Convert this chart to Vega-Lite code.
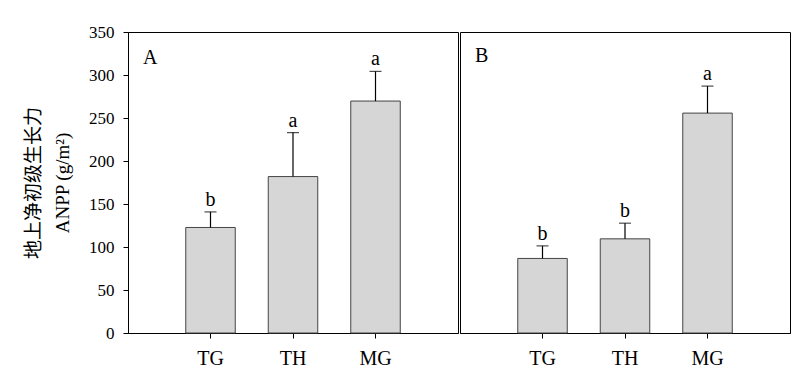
{
  "$schema": "https://vega.github.io/schema/vega-lite/v6.json",
  "padding": {"left": 24, "top": 22, "right": 5, "bottom": 5},
  "background": "white",
  "data": {"values": [
      {"panel": "A", "group": "TG", "mean": 122.7, "upper": 140.8, "sig": "b"},
      {"panel": "A", "group": "TH", "mean": 181.9, "upper": 233.0, "sig": "a"},
      {"panel": "A", "group": "MG", "mean": 269.7, "upper": 304.2, "sig": "a"},
      {"panel": "B", "group": "TG", "mean": 86.7, "upper": 101.3, "sig": "b"},
      {"panel": "B", "group": "TH", "mean": 109.5, "upper": 127.7, "sig": "b"},
      {"panel": "B", "group": "MG", "mean": 255.7, "upper": 287.1, "sig": "a"}
  ]},
  "config": {
    "font": "Liberation Serif",
    "view": {"stroke": "black", "strokeWidth": 1},
    "axis": {"domainColor": "black", "tickColor": "black", "labelColor": "black", "grid": false, "labelFont": "Liberation Serif", "titleColor": "black"},
    "axisY": {"titleFont": "Liberation Serif, Noto Sans CJK SC", "titleFontSize": 19, "titleFontWeight": "normal", "titleLineHeight": 29, "titlePadding": 16, "labelFontSize": 17, "tickSize": 5, "labelPadding": 9}
  },
  "spacing": 0,
  "hconcat": [
    {
      "width": 330,
      "height": 301,
      "title": {"text": "A", "anchor": "start", "frame": "group", "orient": "top", "offset": -31, "dx": 15, "dy": 30, "baseline": "alphabetic", "fontSize": 20, "font": "Liberation Serif", "fontWeight": "normal", "color": "black"},
      "transform": [{"filter": "datum.panel === 'A'"}],
      "encoding": {
        "x": {"field": "group", "type": "nominal", "sort": ["TG", "TH", "MG"],
          "scale": {"paddingInner": 0.4, "paddingOuter": 0.7},
          "axis": {"title": null, "labelAngle": 0, "labelFontSize": 20, "tickSize": 5, "labelPadding": 10}}
      },
      "layer": [
        {
          "mark": {"type": "bar", "fill": "#d6d6d6", "stroke": "#444444", "strokeWidth": 1},
          "encoding": {
            "y": {"field": "mean", "type": "quantitative",
              "scale": {"domain": [0, 350], "nice": false},
              "axis": {"title": ["地上净初级生长力", "ANPP (g/m²)"], "values": [0, 50, 100, 150, 200, 250, 300, 350]}}
          }
        },
        {
          "mark": {"type": "rule", "color": "black", "strokeWidth": 1.2},
          "encoding": {"y": {"field": "mean", "type": "quantitative", "axis": {"title": ["地上净初级生长力", "ANPP (g/m²)"], "values": [0, 50, 100, 150, 200, 250, 300, 350]}}, "y2": {"field": "upper"}}
        },
        {
          "mark": {"type": "tick", "color": "black", "size": 12, "thickness": 1.2},
          "encoding": {"y": {"field": "upper", "type": "quantitative", "axis": {"title": ["地上净初级生长力", "ANPP (g/m²)"], "values": [0, 50, 100, 150, 200, 250, 300, 350]}}}
        },
        {
          "mark": {"type": "text", "fontSize": 20, "baseline": "alphabetic", "dy": -6, "color": "black"},
          "encoding": {"y": {"field": "upper", "type": "quantitative", "axis": {"title": ["地上净初级生长力", "ANPP (g/m²)"], "values": [0, 50, 100, 150, 200, 250, 300, 350]}}, "text": {"field": "sig"}}
        }
      ]
    },
    {
      "width": 330,
      "height": 301,
      "title": {"text": "B", "anchor": "start", "frame": "group", "orient": "top", "offset": -31, "dx": 15, "dy": 19, "baseline": "alphabetic", "fontSize": 20, "font": "Liberation Serif", "fontWeight": "normal", "color": "black"},
      "transform": [{"filter": "datum.panel === 'B'"}],
      "encoding": {
        "x": {"field": "group", "type": "nominal", "sort": ["TG", "TH", "MG"],
          "scale": {"paddingInner": 0.4, "paddingOuter": 0.7},
          "axis": {"title": null, "labelAngle": 0, "labelFontSize": 20, "tickSize": 5, "labelPadding": 10}}
      },
      "layer": [
        {
          "mark": {"type": "bar", "fill": "#d6d6d6", "stroke": "#444444", "strokeWidth": 1},
          "encoding": {
            "y": {"field": "mean", "type": "quantitative", "scale": {"domain": [0, 350], "nice": false}, "axis": null}
          }
        },
        {
          "mark": {"type": "rule", "color": "black", "strokeWidth": 1.2},
          "encoding": {"y": {"field": "mean", "type": "quantitative", "axis": null}, "y2": {"field": "upper"}}
        },
        {
          "mark": {"type": "tick", "color": "black", "size": 12, "thickness": 1.2},
          "encoding": {"y": {"field": "upper", "type": "quantitative", "axis": null}}
        },
        {
          "mark": {"type": "text", "fontSize": 20, "baseline": "alphabetic", "dy": -6, "color": "black"},
          "encoding": {"y": {"field": "upper", "type": "quantitative", "axis": null}, "text": {"field": "sig"}}
        }
      ]
    }
  ]
}
